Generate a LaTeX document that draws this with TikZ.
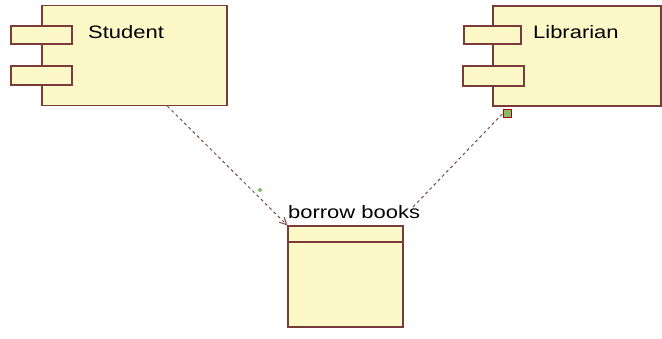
\documentclass[tikz,border=0pt]{standalone}
\usepackage{fontspec}
\setmainfont{Liberation Sans}
\usetikzlibrary{calc,arrows.meta}
\definecolor{compfill}{HTML}{FDF8C8}
\definecolor{compline}{HTML}{7A3B3B}
\definecolor{dashcol}{HTML}{7A4A4A}
\definecolor{mark}{HTML}{7FBF6A}
\tikzset{
  comp/.style={draw=compline, fill=compfill, line width=1.1pt, inner sep=0pt, rectangle},
  port/.style={draw=compline, fill=compfill, line width=1.1pt, inner sep=0pt, rectangle},
  dep/.style={draw=dashcol, dashed, dash pattern=on 3pt off 3pt, line width=1pt},
  lbl/.style={font=\fontsize{18}{20}\selectfont, inner sep=0pt}
}
\begin{document}
\begin{tikzpicture}[x=1pt,y=-1pt]
\useasboundingbox (0,0) rectangle (662,339);
% Student component
\node[comp, minimum width=185pt, minimum height=100pt] (student) at (134.5,55.5) {};
\node[port, minimum width=61pt, minimum height=18pt] (sp1) at (41.5,35) {};
\node[port, minimum width=61pt, minimum height=19pt] (sp2) at (41.5,75.5) {};
\node[lbl, anchor=base west] (stext) at (88,39) {\scalebox{1.22}[1]{Student}};
% Librarian component
\node[comp, minimum width=168pt, minimum height=100pt] (librarian) at (577,56) {};
\node[port, minimum width=57pt, minimum height=18pt] (lp1) at (492.5,35) {};
\node[port, minimum width=61pt, minimum height=20pt] (lp2) at (493.5,76) {};
\node[lbl, anchor=base west] (ltext) at (533,39) {\scalebox{1.22}[1]{Librarian}};
% borrow books component
\node[comp, minimum width=115pt, minimum height=101pt] (borrow) at (345.5,276.5) {};
\draw[compline, line width=1.1pt] (borrow.west |- 0,242) -- (borrow.east |- 0,242);
\node[lbl, anchor=base west] (btext) at (288,219) {\scalebox{1.22}[1]{borrow books}};
% dependencies
\coordinate (sfrom) at ($(student.south west)!0.676!(student.south east)$);
\draw[dep, -{Straight Barb[length=7pt,width=7pt]}] (sfrom) -- (borrow.north west);
\coordinate (lfrom) at ($(librarian.south west)!0.083!(librarian.south east)+(0,3)$);
\coordinate (lend) at (413,207);
\draw[dep] (lfrom) -- (lend);
% small markers
\node[draw=red!70!black, fill=mark, minimum width=8pt, minimum height=8pt, inner sep=0pt] (lmark) at (507,113) {};
\node[circle, fill=mark, minimum size=4pt, inner sep=0pt] (sdot) at (260,190) {};
\end{tikzpicture}
\end{document}
